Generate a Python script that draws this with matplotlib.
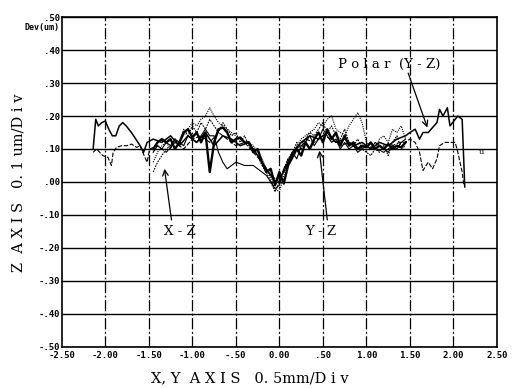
import numpy as np
import matplotlib as mpl
mpl.use('Agg')
import matplotlib.pyplot as plt

# Tick labels
x_ticks = [-2.5, -2.0, -1.5, -1.0, -0.5, 0.0, 0.5, 1.0, 1.5, 2.0, 2.5]
x_tick_labels = ['-2.50', '-2.00', '-1.50', '-1.00', '-.50', '0.00', '.50', '1.00', '1.50', '2.00', '2.50']
y_ticks = [0.5, 0.4, 0.3, 0.2, 0.1, 0.0, -0.1, -0.2, -0.3, -0.4, -0.5]
y_tick_labels = ['.50', '.40', '.30', '.20', '.10', '.00', '-.10', '-.20', '-.30', '-.40', '-.50']

# Polar (Y-Z) scans, full width
polar_a_x = [-2.14, -2.11, -2.08, -2.04, -2.00, -1.96, -1.92, -1.88, -1.84, -1.80,
             -1.76, -1.70, -1.65, -1.60, -1.56, -1.52,
             -1.45, -1.35, -1.25, -1.15, -1.05, -0.95, -0.85, -0.75, -0.65, -0.55,
             -0.45, -0.35, -0.25, -0.15, -0.05, 0.05, 0.15, 0.25, 0.35, 0.45,
             0.55, 0.65, 0.75, 0.85, 0.95, 1.05, 1.15, 1.25, 1.35, 1.45,
             1.50, 1.56, 1.61, 1.65, 1.71, 1.76, 1.81, 1.84, 1.88, 1.93,
             1.96, 2.02, 2.05, 2.10, 2.13]
polar_a_y = [0.10, 0.19, 0.17, 0.18, 0.185, 0.16, 0.14, 0.14, 0.17, 0.18,
             0.17, 0.15, 0.13, 0.11, 0.09, 0.12,
             0.13, 0.12, 0.14, 0.11, 0.14, 0.12, 0.15, 0.11, 0.14, 0.13,
             0.11, 0.12, 0.08, 0.04, 0.00, 0.03, 0.09, 0.12, 0.14, 0.13,
             0.15, 0.12, 0.13, 0.11, 0.12, 0.10, 0.12, 0.11, 0.13, 0.14,
             0.15, 0.16, 0.13, 0.15, 0.15, 0.165, 0.18, 0.22, 0.20, 0.225,
             0.17, 0.19, 0.20, 0.19, -0.015]

polar_b_x = [-2.14, -2.10, -2.03, -1.97, -1.93, -1.91, -1.87, -1.81, -1.75, -1.70,
             -1.64, -1.60, -1.57, -1.52, -1.49,
             -1.40, -1.30, -1.20, -1.10, -1.00, -0.90, -0.80, -0.70, -0.60, -0.50,
             -0.40, -0.30, -0.20, -0.10, 0.00, 0.10, 0.20, 0.30, 0.40, 0.50,
             0.60, 0.70, 0.80, 0.90, 1.00, 1.10, 1.20, 1.30, 1.38,
             1.44, 1.50, 1.56, 1.61, 1.65, 1.71, 1.76, 1.81, 1.84, 1.90,
             1.96, 2.02, 2.05, 2.10, 2.12]
polar_b_y = [0.09, 0.10, 0.08, 0.075, 0.05, 0.09, 0.105, 0.11, 0.11, 0.115,
             0.105, 0.11, 0.09, 0.06, 0.10,
             0.11, 0.09, 0.12, 0.10, 0.13, 0.14, 0.12, 0.15, 0.13, 0.11,
             0.12, 0.09, 0.06, 0.02, 0.00, 0.07, 0.10, 0.13, 0.12, 0.14,
             0.13, 0.11, 0.12, 0.10, 0.11, 0.10, 0.09, 0.11, 0.12,
             0.12, 0.13, 0.12, 0.09, 0.035, 0.06, 0.04, 0.07, 0.11, 0.12,
             0.12, 0.12, 0.09, 0.03, -0.01]

# X-Z and Y-Z scans share one sampling
x_scan = [-1.45, -1.40, -1.35, -1.30, -1.25, -1.20, -1.15, -1.10, -1.05, -1.00,
          -0.95, -0.90, -0.85, -0.80, -0.75, -0.70, -0.65, -0.60, -0.55, -0.50,
          -0.45, -0.40, -0.35, -0.30, -0.25, -0.20, -0.15, -0.10, -0.05, 0.00,
          0.05, 0.10, 0.15, 0.20, 0.25, 0.30, 0.35, 0.40, 0.45, 0.50,
          0.55, 0.60, 0.65, 0.70, 0.75, 0.80, 0.85, 0.90, 0.95, 1.00,
          1.05, 1.10, 1.15, 1.20, 1.25, 1.30, 1.35, 1.40, 1.45]

yz_a = [0.10, 0.12, 0.13, 0.12, 0.13, 0.10, 0.12, 0.15, 0.16, 0.135,
        0.15, 0.12, 0.15, 0.03, 0.12, 0.16, 0.165, 0.15, 0.12, 0.13,
        0.135, 0.12, 0.12, 0.09, 0.10, 0.06, 0.03, 0.04, -0.01, 0.03,
        -0.005, 0.05, 0.075, 0.10, 0.08, 0.12, 0.10, 0.13, 0.15, 0.12,
        0.16, 0.13, 0.15, 0.11, 0.14, 0.11, 0.12, 0.10, 0.11, 0.105,
        0.12, 0.10, 0.11, 0.10, 0.115, 0.10, 0.11, 0.105, 0.12]
yz_b = [0.09, 0.11, 0.10, 0.12, 0.11, 0.13, 0.12, 0.11, 0.14, 0.13,
        0.12, 0.14, 0.16, 0.14, 0.14, 0.09, 0.06, 0.04, 0.05, 0.06,
        0.055, 0.05, 0.05, 0.05, 0.04, 0.03, 0.02, 0.00, -0.02, -0.01,
        0.04, 0.06, 0.09, 0.07, 0.11, 0.12, 0.14, 0.11, 0.13, 0.16,
        0.14, 0.12, 0.13, 0.10, 0.12, 0.10, 0.11, 0.09, 0.10, 0.11,
        0.10, 0.12, 0.11, 0.10, 0.09, 0.11, 0.10, 0.12, 0.13]
xz_a = [0.06, 0.09, 0.11, 0.12, 0.10, 0.13, 0.12, 0.14, 0.16, 0.18,
        0.17, 0.19, 0.20, 0.225, 0.20, 0.18, 0.17, 0.16, 0.15, 0.14,
        0.13, 0.12, 0.12, 0.11, 0.09, 0.07, 0.04, 0.01, -0.02, -0.03,
        0.02, 0.05, 0.08, 0.11, 0.13, 0.14, 0.15, 0.16, 0.18, 0.17,
        0.19, 0.20, 0.16, 0.15, 0.14, 0.17, 0.19, 0.21, 0.18, 0.12,
        0.11, 0.10, 0.13, 0.14, 0.12, 0.16, 0.15, 0.17, 0.13]
xz_b = [0.03, 0.06, 0.08, 0.10, 0.11, 0.13, 0.11, 0.16, 0.14, 0.17,
        0.15, 0.18, 0.16, 0.19, 0.17, 0.15, 0.18, 0.16, 0.14, 0.15,
        0.12, 0.14, 0.11, 0.10, 0.08, 0.05, 0.03, 0.00, -0.03, 0.00,
        0.04, 0.07, 0.09, 0.12, 0.10, 0.13, 0.15, 0.14, 0.16, 0.18,
        0.15, 0.17, 0.14, 0.13, 0.16, 0.12, 0.11, 0.13, 0.10, 0.09,
        0.08, 0.10, 0.09, 0.11, 0.08, 0.12, 0.14, 0.10, 0.11]

mono = 'DejaVu Sans Mono'
serif = 'DejaVu Serif'

fig = plt.figure(figsize=(5.15, 3.88), dpi=100)
ax = fig.add_axes([0.120, 0.106, 0.845, 0.850])

ax.set_xlim(-2.5, 2.5)
ax.set_ylim(-0.5, 0.5)

# grid: solid horizontals, broken verticals like the plotter output
for yv in y_ticks:
    ax.axhline(yv, color='black', lw=1.0, zorder=1)
for xv in x_ticks[1:-1]:
    ax.axvline(xv, color='black', lw=0.9, ls=(0, (9, 2, 1.5, 2)), zorder=1)

ax.plot(polar_a_x, polar_a_y, color='black', lw=1.1, zorder=3)
ax.plot(polar_b_x, polar_b_y, color='black', lw=0.8, ls=(0, (4, 1.5)), zorder=3)
ax.plot(x_scan, xz_a, color='black', lw=0.8, ls=(0, (1, 1)), zorder=3)
ax.plot(x_scan, xz_b, color='black', lw=0.8, ls=(0, (1.5, 1)), zorder=3)
ax.plot(x_scan, yz_b, color='black', lw=0.8, zorder=3)
ax.plot(x_scan, yz_a, color='black', lw=1.7, zorder=4)

for sp in ax.spines.values():
    sp.set_color('black')
    sp.set_linewidth(1.2)

ax.set_xticks(x_ticks)
ax.set_xticklabels(x_tick_labels, fontfamily=mono, fontsize=6.5, fontweight='bold')
ax.set_yticks(y_ticks)
ax.set_yticklabels(y_tick_labels, fontfamily=mono, fontsize=6.5, fontweight='bold')
ax.tick_params(axis='x', length=0, pad=3)
ax.tick_params(axis='y', length=0, pad=1.5)

fig.text(0.115, 0.929, 'Dev(um)', fontfamily=mono, fontsize=6, fontweight='bold',
         ha='right', va='center')

fig.text(0.036, 0.528, 'Z  A X I S   0. 1 um/D i v', fontfamily=serif, fontsize=10.5,
         rotation=90, ha='center', va='center')
fig.text(0.485, 0.026, 'X, Y  A X I S   0. 5mm/D i v', fontfamily=serif, fontsize=10.5,
         ha='center', va='center')

# annotations
arrow = dict(arrowstyle='->', color='black', lw=0.9, shrinkA=0, shrinkB=0)
ax.text(1.26, 0.355, 'P o l a r  (Y - Z)', fontfamily=serif, fontsize=9.5, ha='center', va='center')
ax.annotate('', xy=(1.70, 0.165), xytext=(1.48, 0.33), arrowprops=arrow)
ax.text(-1.14, -0.15, 'X - Z', fontfamily=serif, fontsize=9.5, ha='center', va='center')
ax.annotate('', xy=(-1.32, 0.04), xytext=(-1.24, -0.115), arrowprops=arrow)
ax.text(0.47, -0.15, 'Y - Z', fontfamily=serif, fontsize=9.5, ha='center', va='center')
ax.annotate('', xy=(0.46, 0.095), xytext=(0.55, -0.115), arrowprops=arrow)
ax.text(2.32, 0.09, 'u', fontfamily=serif, fontsize=6, ha='center', va='center')

fig.savefig('out.png', dpi=100)
